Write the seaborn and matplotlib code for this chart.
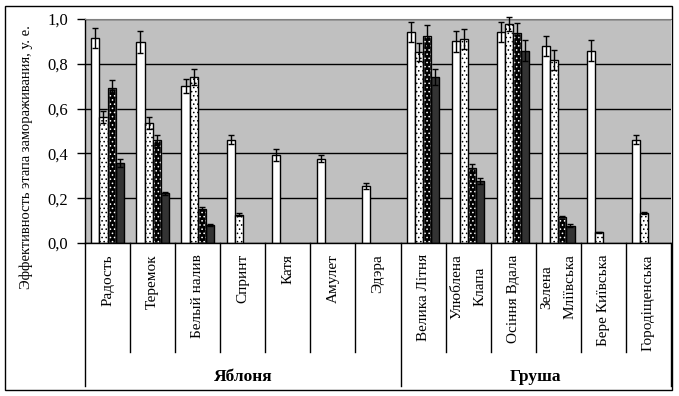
import numpy as np
import pandas as pd
import matplotlib
matplotlib.use("Agg")
import matplotlib.pyplot as plt
import matplotlib.transforms as mtransforms
from matplotlib.patches import Rectangle
from matplotlib.container import BarContainer
import seaborn as sns

# ---- data ----
cultivars = ["Радость", "Теремок", "Белый налив", "Спринт", "Катя", "Амулет", "Эдэра",
             "Велика Літня", "Улюблена\nКлапа", "Осіння Вдала", "Зелена\nМлiївська",
             "Бере Київська", "Городіщенська"]
groups = ["Яблоня", "Груша"]
group_sizes = [7, 6]
series = ["s1", "s2", "s3", "s4"]
nan = np.nan
s1_vals = [0.917, 0.898, 0.700, 0.462, 0.393, 0.377, 0.256, 0.942, 0.900, 0.942, 0.879, 0.859, 0.462]
s1_err = [0.045, 0.048, 0.031, 0.022, 0.028, 0.015, 0.013, 0.045, 0.047, 0.045, 0.045, 0.047, 0.022]
s2_vals = [0.563, 0.534, 0.740, 0.127, nan, nan, nan, 0.852, 0.909, 0.978, 0.816, 0.048, 0.135]
s2_err = [0.027, 0.027, 0.036, 0.007, nan, nan, nan, 0.040, 0.045, 0.031, 0.045, 0.003, 0.005]
s3_vals = [0.690, 0.459, 0.154, nan, nan, nan, nan, 0.925, 0.336, 0.937, 0.117, nan, nan]
s3_err = [0.036, 0.021, 0.008, nan, nan, nan, nan, 0.048, 0.018, 0.045, 0.003, nan, nan]
s4_vals = [0.359, 0.221, 0.082, nan, nan, nan, nan, 0.740, 0.278, 0.859, 0.078, nan, nan]
s4_err = [0.018, 0.008, 0.005, nan, nan, nan, nan, 0.036, 0.013, 0.047, 0.005, nan, nan]
yticks = [0.0, 0.2, 0.4, 0.6, 0.8, 1.0]
ytick_labels = ["0,0", "0,2", "0,4", "0,6", "0,8", "1,0"]
ylabel = "Эффективность этапа замораживания, у. е."

vals = [s1_vals, s2_vals, s3_vals, s4_vals]
errs = [s1_err, s2_err, s3_err, s4_err]
rows = []
for s, v in zip(series, vals):
    for c, x in zip(cultivars, v):
        rows.append({"cultivar": c, "series": s, "value": x})
df = pd.DataFrame(rows)

plt.rcParams["font.family"] = ["Liberation Serif", "DejaVu Serif"]
plt.rcParams["hatch.linewidth"] = 0.6

W, H = 679, 396
fig = plt.figure(figsize=(W / 100, H / 100), dpi=100)
ax = fig.add_axes([85 / W, 1 - 243 / H, (671 - 85) / W, (243 - 19) / H])
ax.set_facecolor("#C0C0C0")

palette = {"s1": "white", "s2": "white", "s3": "black", "s4": "#333333"}
sns.barplot(data=df, x="cultivar", y="value", hue="series", order=cultivars,
            hue_order=series, palette=palette, saturation=1, width=0.72,
            errorbar=None, edgecolor="black", linewidth=1, legend=False, ax=ax, zorder=2)

bar_conts = [c for c in ax.containers if isinstance(c, BarContainer)]
# hatches, error bars
for si, cont in enumerate(bar_conts):
    xs, ys, es = [], [], []
    for b in cont:
        if b is None or np.isnan(b.get_height()):
            continue
        cx = b.get_x() + b.get_width() / 2
        ci = int(round(cx))
        xs.append(cx)
        ys.append(b.get_height())
        es.append(errs[si][ci])
        if si == 1:
            b.set_hatch("....")
        elif si == 2:
            b.set_edgecolor("white")
            b.set_hatch("....")
            ax.add_patch(Rectangle((b.get_x(), b.get_y()), b.get_width(), b.get_height(),
                                   fill=False, ec="black", lw=1, zorder=2.5))
    ax.errorbar(xs, ys, yerr=es, fmt="none", ecolor="black", elinewidth=1,
                capsize=2.5, capthick=1, clip_on=False, zorder=3)

ax.set_xlim(-0.5, len(cultivars) - 0.5)
ax.set_ylim(0, 1)
ax.set_yticks(yticks)
ax.set_yticklabels(ytick_labels, fontsize=12)
ax.tick_params(axis="y", direction="out", length=6, width=1, color="black", pad=6)
ax.set_xticks([])
ax.set_xlabel("")
ax.set_ylabel("")
ax.yaxis.grid(True, color="black", linewidth=1)
ax.set_axisbelow(True)
for side in ["left", "bottom"]:
    ax.spines[side].set_color("black")
    ax.spines[side].set_linewidth(1)
ax.spines["top"].set_color("#808080")
ax.spines["right"].set_visible(False)

trans = mtransforms.blended_transform_factory(ax.transData, ax.transAxes)
# category labels
for i, c in enumerate(cultivars):
    ax.text(i, -0.05, c, transform=trans, rotation=90, ha="center", va="top",
            fontsize=11, linespacing=2.0, multialignment="center")

# separators
bounds = np.cumsum([0] + group_sizes) - 0.5
for k in range(1, len(cultivars)):
    b = k - 0.5
    if b in bounds:
        continue
    ax.plot([b, b], [0, -0.487], transform=trans, color="black", lw=1, clip_on=False)
for b in bounds:
    ax.plot([b, b], [0, -0.64], transform=trans, color="black", lw=1, clip_on=False)

# group labels
for gi, g in enumerate(groups):
    mid = (bounds[gi] + bounds[gi + 1]) / 2
    ax.text(mid, -0.598, g, transform=trans, ha="center", va="center",
            fontsize=12.5, fontweight="bold")

fig.text(26 / W, 1 - 157 / H, ylabel, rotation=90, ha="center", va="center", fontsize=10.5)

fig.add_artist(Rectangle((5 / W, 1 - 390 / H), (672 - 5) / W, (390 - 6) / H,
                         transform=fig.transFigure, fill=False, ec="black", lw=1))

fig.savefig("out.png", dpi=100)
